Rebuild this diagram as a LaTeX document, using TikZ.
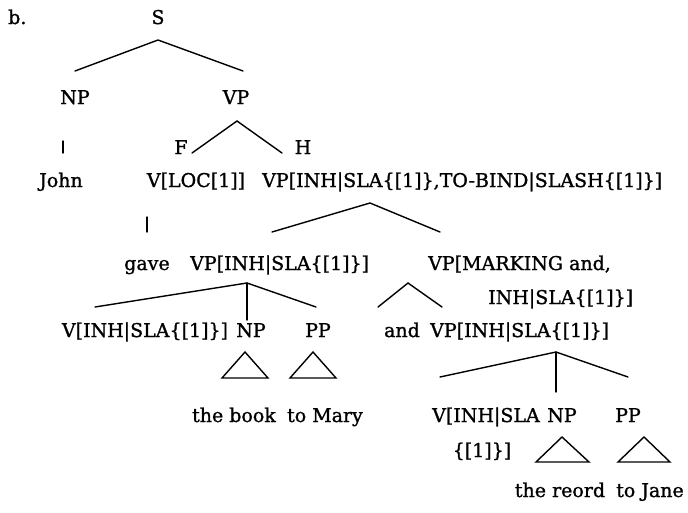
\documentclass[tikz,border=0pt]{standalone}
\usepackage{fontspec}
\setmainfont{DejaVu Serif}[FakeBold=1.2]
\begin{document}
\begin{tikzpicture}[x=1pt,y=-1pt,
  lab/.style={inner sep=0pt, font=\fontsize{19}{22}\selectfont},
  edge/.style={line width=1.4pt, line cap=round},
  tri/.style={line width=1.4pt, line join=miter}]
\useasboundingbox (0,0) rectangle (688,512);

% ---- labels (positions are baselines) ----
\node[lab,anchor=base west] (item) at (8,24) {b.};
\node[lab,anchor=base] (S) at (158,24) {S};
\node[lab,anchor=base] (NP1) at (75,104) {NP};
\node[lab,anchor=base] (VP1) at (236,104) {VP};
\node[lab,anchor=base] (F) at (181,154) {F};
\node[lab,anchor=base] (H) at (303,154) {H};
\node[lab,anchor=base] (john) at (61,187) {John};
\node[lab,anchor=base] (Vloc) at (196,187) {V[LOC[1]]};
\node[lab,anchor=base west] (VPtop) at (262,187) {VP[INH|SLA\{[1]\},TO-BIND|SLASH\{[1]\}]};
\node[lab,anchor=base] (gave) at (147,270) {gave};
\node[lab,anchor=base west] (VPa) at (190,270) {VP[INH|SLA\{[1]\}]};
\node[lab,anchor=base west] (VPm) at (428,270) {VP[MARKING and,};
\node[lab,anchor=base west] (VPmb) at (488,304) {INH|SLA\{[1]\}]};
\node[lab,anchor=base] (Va) at (145,337) {V[INH|SLA\{[1]\}]};
\node[lab,anchor=base] (NPa) at (251,337) {NP};
\node[lab,anchor=base] (PPa) at (318,337) {PP};
\node[lab,anchor=base] (and) at (402,337) {and};
\node[lab,anchor=base west] (VPb) at (430,337) {VP[INH|SLA\{[1]\}]};
\node[lab,anchor=base] (book) at (234,422) {the book};
\node[lab,anchor=base] (mary) at (325,422) {to Mary};
\node[lab,anchor=base west] (Vb) at (432,422) {V[INH|SLA};
\node[lab,anchor=base] (NPb) at (562,422) {NP};
\node[lab,anchor=base] (PPb) at (628,422) {PP};
\node[lab,anchor=base] (Vbb) at (482,457) {\{[1]\}]};
\node[lab,anchor=base] (reord) at (560,497) {the reord};
\node[lab,anchor=base] (jane) at (650,497) {to Jane};

% ---- branch points ----
\coordinate (S-d) at (158,40);
\coordinate (NP1-u) at (75,71);
\coordinate (VP1-u) at (243,71);
\coordinate (NP1-d) at (63,141);
\coordinate (john-u) at (63,153);
\coordinate (VP1-d) at (237,121);
\coordinate (Vloc-u) at (192,153);
\coordinate (VPtop-u) at (282,153);
\coordinate (Vloc-d) at (147,217);
\coordinate (gave-u) at (147,232);
\coordinate (VPtop-d) at (370,203);
\coordinate (VPa-u) at (272,232);
\coordinate (VPm-u) at (440,232);
\coordinate (VPa-d) at (247,283);
\coordinate (Va-u) at (95,307);
\coordinate (NPa-u) at (247,320);
\coordinate (PPa-u) at (316,307);
\coordinate (VPm-d) at (408,283);
\coordinate (and-u) at (378,307);
\coordinate (VPb-u) at (442,307);
\coordinate (VPb-d) at (556,352);
\coordinate (Vb-u) at (440,377);
\coordinate (NPb-u) at (556,392);
\coordinate (PPb-u) at (628,377);

% ---- branches ----
\draw[edge] (NP1-u) -- (S-d) -- (VP1-u);
\draw[edge] (NP1-d) -- (john-u);
\draw[edge] (Vloc-u) -- (VP1-d) -- (VPtop-u);
\draw[edge] (Vloc-d) -- (gave-u);
\draw[edge] (VPa-u) -- (VPtop-d) -- (VPm-u);
\draw[edge] (Va-u) -- (VPa-d) -- (PPa-u);
\draw[edge] (VPa-d) -- (NPa-u);
\draw[edge] (and-u) -- (VPm-d) -- (VPb-u);
\draw[edge] (Vb-u) -- (VPb-d) -- (PPb-u);
\draw[edge] (VPb-d) -- (NPb-u);

% ---- roof triangles ----
\draw[tri] (245,352) -- (222,378) -- (268,378) -- cycle;
\draw[tri] (313,352) -- (290,378) -- (336,378) -- cycle;
\draw[tri] (562,437) -- (536,462) -- (589,462) -- cycle;
\draw[tri] (644,437) -- (618,462) -- (670,462) -- cycle;
\end{tikzpicture}
\end{document}
